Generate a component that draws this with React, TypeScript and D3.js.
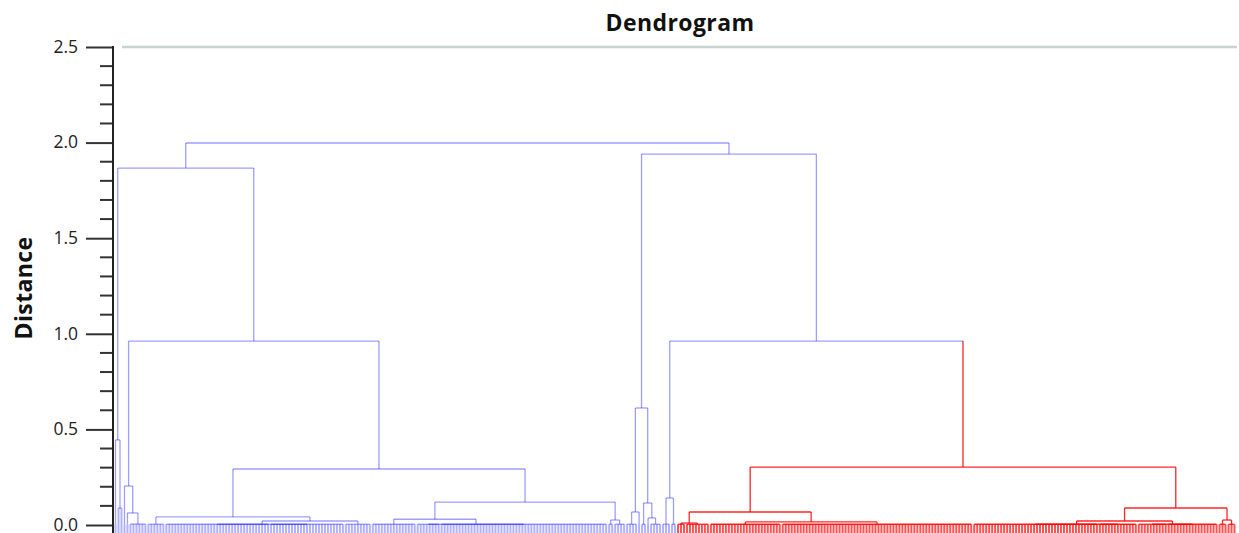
import React, { useEffect, useRef } from 'react';
import * as d3 from 'd3';

// leaf bundles, left to right: number of leaves and the (tiny) height they merge at
const bundleNames = ['a1l', 'a1r', 'a2al', 'a2arl', 'a2arr', 'cl', 'crla', 'crlb', 'crr', 'dll', 'dlra', 'dlrb', 'drl', 'drr',
  'ell', 'elr', 'erl', 'erra', 'errb', 'gl', 'gr', 'ill', 'ilr', 'irl', 'irr', 'jlla', 'jllb', 'jlra', 'jlrb', 'jrl', 'jrr'];
const bundleSizes = [1, 2, 1, 1, 6, 6, 35, 25, 9, 15, 8, 56, 2, 4,
  4, 1, 2, 1, 4, 3, 2, 3, 8, 24, 64, 42, 13, 10, 17, 3, 3];
const bundleHeights = [0.003, 0.089, 0.003, 0.003, 0.005, 0.004, 0.004, 0.004, 0.004, 0.004, 0.004, 0.004, 0.004, 0.004,
  0.004, 0.003, 0.004, 0.003, 0.004, 0.004, 0.004, 0.004, 0.004, 0.004, 0.004, 0.004, 0.004, 0.004, 0.004, 0.004, 0.004];

// merges (like a linkage table): name, distance, children
const mergeNames = ['A1', 'A2aR', 'A2a', 'CRL', 'CR', 'C', 'DLR', 'DL', 'DR', 'D', 'A2b', 'A2', 'A',
  'EL', 'ERR', 'ER', 'E', 'G', 'IL', 'IR', 'I', 'JLL', 'JLR', 'JL', 'JR', 'J', 'H', 'F', 'B', 'root'];
const mergeHeights = [0.445, 0.063, 0.204, 0.004, 0.021, 0.042, 0.004, 0.03, 0.026, 0.12, 0.293, 0.962, 1.867,
  0.068, 0.037, 0.115, 0.612, 0.141, 0.01, 0.016, 0.068, 0.004, 0.004, 0.021, 0.026, 0.089, 0.303, 0.962, 1.94, 1.998];
const mergeChildren = [
  ['a1l', 'a1r'], ['a2arl', 'a2arr'], ['a2al', 'A2aR'], ['crla', 'crlb'], ['CRL', 'crr'], ['cl', 'CR'],
  ['dlra', 'dlrb'], ['dll', 'DLR'], ['drl', 'drr'], ['DL', 'DR'], ['C', 'D'], ['A2a', 'A2b'], ['A1', 'A2'],
  ['ell', 'elr'], ['erra', 'errb'], ['erl', 'ERR'], ['EL', 'ER'], ['gl', 'gr'],
  ['ill', 'ilr'], ['irl', 'irr'], ['IL', 'IR'], ['jlla', 'jllb'], ['jlra', 'jlrb'], ['JLL', 'JLR'], ['jrl', 'jrr'],
  ['JL', 'JR'], ['I', 'J'], ['G', 'H'], ['E', 'F'], ['A', 'B'],
];
const redCluster = 'H';

const yTicks = [0, 0.5, 1, 1.5, 2, 2.5];
const yMinorTicks = [0.1, 0.2, 0.3, 0.4, 0.6, 0.7, 0.8, 0.9, 1.1, 1.2, 1.3, 1.4, 1.6, 1.7, 1.8, 1.9, 2.1, 2.2, 2.3, 2.4];
const thresholdLine = 2.5;

const width = 1239;
const height = 533;
const margin = { left: 114, right: 3, top: 47, bottom: 8 };

function buildTree() {
  const nodes: any = {};
  bundleNames.forEach((b, i) => {
    const leaves = d3.range(bundleSizes[i]).map(j => ({ name: `${b}-${j}`, h: null }));
    nodes[b] = { name: b, h: bundleHeights[i], children: leaves };
  });
  mergeNames.forEach((m, i) => {
    nodes[m] = { name: m, h: mergeHeights[i], children: mergeChildren[i].map(c => nodes[c]) };
  });
  return nodes['root'];
}

export default function App() {
  const ref = useRef<SVGSVGElement>(null);

  useEffect(() => {
    const svg = d3.select(ref.current);
    svg.selectAll('*').remove();

    const innerW = width - margin.left - margin.right;
    const yScale = d3.scaleLinear().domain([0, 2.5]).range([height - margin.bottom, margin.top]);
    const leafY = height + 12;

    const root = d3.hierarchy(buildTree());
    d3.cluster().size([innerW, 1]).separation(() => 1)(root as any);

    const px = (d: any) => margin.left + d.x;
    const py = (d: any) => (d.children ? yScale(d.data.h) : leafY);
    const isRed = (d: any) => d.ancestors().some((a: any) => a.data.name === redCluster);
    const color = (d: any) => (isRed(d) ? '#ff0000' : '#0000ff');
    const opacity = (d: any) => (isRed(d) ? 0.85 : 0.38);

    const links = svg.append('g').attr('fill', 'none');

    // verticals: each node up to its parent's height
    links.selectAll('line.v')
      .data(root.descendants().filter(d => d.parent))
      .enter().append('line')
      .attr('class', 'v')
      .attr('x1', d => px(d)).attr('x2', d => px(d))
      .attr('y1', d => py(d)).attr('y2', d => py(d.parent))
      .attr('stroke', d => color(d))
      .attr('stroke-width', d => (d.children ? 1.3 : 2))
      .attr('stroke-opacity', d => (d.children ? opacity(d) : opacity(d) * 0.8));

    // horizontals: across each merge's children
    links.selectAll('line.h')
      .data(root.descendants().filter(d => d.children))
      .enter().append('line')
      .attr('class', 'h')
      .attr('x1', d => d3.min(d.children!, c => px(c))!)
      .attr('x2', d => d3.max(d.children!, c => px(c))!)
      .attr('y1', d => py(d)).attr('y2', d => py(d))
      .attr('stroke', d => color(d))
      .attr('stroke-width', 1.3)
      .attr('stroke-opacity', d => opacity(d));

    // top line
    svg.append('line')
      .attr('x1', margin.left + 8).attr('x2', width - 2)
      .attr('y1', yScale(thresholdLine)).attr('y2', yScale(thresholdLine))
      .attr('stroke', '#c6d3cf').attr('stroke-width', 2.5);

    // y axis
    const axis = svg.append('g').attr('transform', `translate(${margin.left - 1}, 0)`);
    axis.call(d3.axisLeft(yScale).tickValues(yTicks).tickFormat(d3.format('.1f')).tickSize(27).tickPadding(8) as any);
    axis.call(g => g.select('.domain').remove());
    axis.selectAll('.tick line').attr('stroke', '#333').attr('stroke-width', 2);
    axis.selectAll('.tick text')
      .attr('fill', '#222')
      .attr('dy', '0.3em')
      .style('font-family', '"Open Sans", "Noto Sans", sans-serif')
      .style('font-size', '17.5px');
    axis.append('g').selectAll('line')
      .data(yMinorTicks).enter().append('line')
      .attr('x1', -13).attr('x2', 0)
      .attr('y1', d => yScale(d)).attr('y2', d => yScale(d))
      .attr('stroke', '#333').attr('stroke-width', 2);
    axis.append('line')
      .attr('x1', 0).attr('x2', 0)
      .attr('y1', margin.top - 1).attr('y2', height)
      .attr('stroke', '#222').attr('stroke-width', 2);

    // title
    svg.append('text')
      .attr('x', 680).attr('y', 31)
      .attr('text-anchor', 'middle')
      .style('font-family', '"Open Sans", "Noto Sans", sans-serif')
      .style('font-weight', 'bold').style('font-size', '23px')
      .style('letter-spacing', '0.4px')
      .attr('fill', '#111')
      .text('Dendrogram');

    // y label
    svg.append('text')
      .attr('transform', `translate(32, ${(yScale(0) + yScale(2.5)) / 2 + 2}) rotate(-90)`)
      .attr('text-anchor', 'middle')
      .style('font-family', '"Open Sans", "Noto Sans", sans-serif')
      .style('font-weight', 'bold').style('font-size', '23px')
      .style('letter-spacing', '0.4px')
      .attr('fill', '#111')
      .text('Distance');
  }, []);

  return (
    <svg ref={ref} width={width} height={height}
      style={{ position: 'absolute', left: 0, top: 0, background: '#fff' }} />
  );
}
